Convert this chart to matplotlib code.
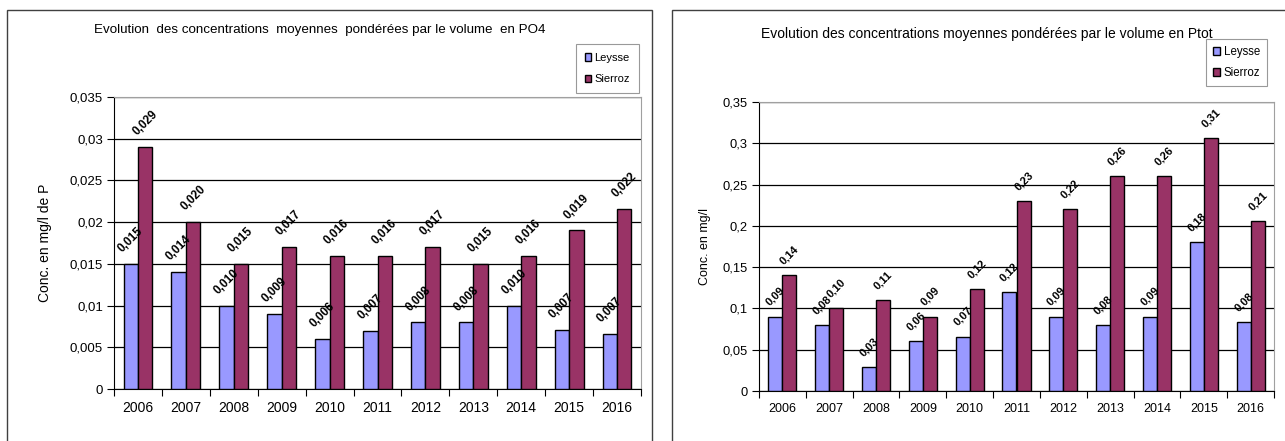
import matplotlib.pyplot as plt
import numpy as np
from matplotlib.patches import Rectangle, Patch

plt.rcParams['font.family'] = ['Liberation Sans', 'DejaVu Sans']

years = ['2006', '2007', '2008', '2009', '2010', '2011', '2012', '2013', '2014', '2015', '2016']

# PO4 (mg/l de P)
po4_leysse = [0.015, 0.014, 0.010, 0.009, 0.006, 0.007, 0.008, 0.008, 0.010, 0.0071, 0.0066]
po4_sierroz = [0.029, 0.020, 0.015, 0.017, 0.016, 0.016, 0.017, 0.015, 0.016, 0.019, 0.0216]

# Ptot (mg/l)
ptot_leysse = [0.09, 0.08, 0.029, 0.06, 0.066, 0.12, 0.09, 0.08, 0.09, 0.18, 0.083]
ptot_sierroz = [0.14, 0.10, 0.11, 0.09, 0.123, 0.23, 0.22, 0.26, 0.26, 0.306, 0.206]

col_leysse = '#9999FF'
col_sierroz = '#993366'

W, H = 1285, 441
fig = plt.figure(figsize=(W / 100, H / 100), dpi=100)


def px_axes(x0, y0, x1, y1):
    # pixel box (top-left origin) -> figure fraction axes
    return fig.add_axes([x0 / W, 1 - y1 / H, (x1 - x0) / W, (y1 - y0) / H])


def fmt(v, nd):
    return f'{v:.{nd}f}'.replace('.', ',')


def draw(ax, leysse, sierroz, ymax, step, nd, ylabel_txt, fs):
    # fs: (xtick, ytick, data labels, ylabel)
    x = np.arange(len(years))
    w = 0.3
    b1 = ax.bar(x - w / 2, leysse, w, color=col_leysse, edgecolor='black', linewidth=1, zorder=3)
    b2 = ax.bar(x + w / 2, sierroz, w, color=col_sierroz, edgecolor='black', linewidth=1, zorder=3)
    for bars, vals in ((b1, leysse), (b2, sierroz)):
        for r, v in zip(bars, vals):
            ax.annotate(fmt(v, nd), (r.get_x() + r.get_width() / 2, r.get_height()),
                        xytext=(0, 6.5), textcoords='offset points', ha='center', va='bottom',
                        rotation=45, fontsize=fs[2], fontweight='bold', zorder=4,
                        annotation_clip=False)
    ax.set_xlim(-0.5, len(years) - 0.5)
    ax.set_ylim(0, ymax)
    yt = np.arange(0, ymax + step / 2, step)
    ax.set_yticks(yt)
    ax.set_yticklabels(['0' if v == 0 else fmt(v, 3).rstrip('0') for v in yt], fontsize=fs[1])
    ax.set_xticks(x)
    ax.set_xticklabels(years, fontsize=fs[0])
    ax.set_xticks(np.arange(-0.5, len(years)), minor=True)
    ax.tick_params(axis='x', which='major', length=0, pad=9)
    ax.tick_params(axis='x', which='minor', length=5, width=0.8, direction='out')
    ax.tick_params(axis='y', length=5, width=0.8, direction='out', pad=3)
    ax.yaxis.grid(True, color='black', linewidth=0.9)
    ax.set_axisbelow(True)
    for s in ('top', 'right'):
        ax.spines[s].set_color('#a0a0a0')
    for s in ('left', 'bottom'):
        ax.spines[s].set_color('black')
    ax.set_ylabel(ylabel_txt, fontsize=fs[3])


ax1 = px_axes(114, 97, 641, 389)
draw(ax1, po4_leysse, po4_sierroz, 0.035, 0.005, 3, 'Conc. en mg/l de P', (10, 9.5, 8.5, 10))
ax1.yaxis.set_label_coords((52 - 114) / (641 - 114), 0.5)

ax2 = px_axes(759, 102, 1274, 391)
draw(ax2, ptot_leysse, ptot_sierroz, 0.35, 0.05, 2, 'Conc. en mg/l', (9, 9.3, 8, 9))
ax2.yaxis.set_label_coords((711 - 759) / (1274 - 759), 0.5)

# panel frames
fig.add_artist(Rectangle((7 / W, -0.1), (652 - 7) / W, 1.1 - 10 / H, transform=fig.transFigure,
                         fill=False, edgecolor='#404040', linewidth=1))
fig.add_artist(Rectangle((672 / W, -0.1), 0.6, 1.1 - 10 / H, transform=fig.transFigure,
                         fill=False, edgecolor='#404040', linewidth=1))

fig.text(320 / W, 1 - 30 / H, 'Evolution  des concentrations  moyennes  pondérées par le volume  en PO4',
         ha='center', va='center', fontsize=9.6)
fig.text(987 / W, 1 - 34 / H, 'Evolution des concentrations moyennes pondérées par le volume en Ptot',
         ha='center', va='center', fontsize=10)

handles = [Patch(facecolor=col_leysse, edgecolor='black', label='Leysse'),
           Patch(facecolor=col_sierroz, edgecolor='black', label='Sierroz')]
for bx, by, lfs, lsp, bp in ((639, 44, 8, 1.0, 0.8), (1267, 39, 8.3, 0.8, 0.6)):
    leg = fig.legend(handles=handles, loc='upper right', bbox_to_anchor=(bx / W, 1 - by / H),
                     fontsize=lfs, frameon=True, fancybox=False, handlelength=0.6, handleheight=0.6,
                     handletextpad=0.3, labelspacing=lsp, borderpad=bp, borderaxespad=0)
    leg.get_frame().set_edgecolor('#808080')
    leg.get_frame().set_linewidth(0.8)

fig.savefig('out.png', dpi=100)
